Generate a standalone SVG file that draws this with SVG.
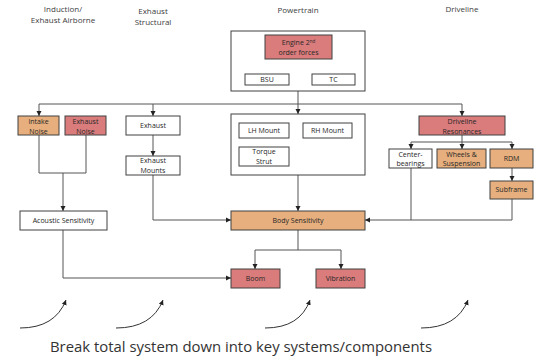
<svg xmlns="http://www.w3.org/2000/svg" width="544" height="359" viewBox="0 0 544 359">
<style>
text{font-family:"Open Sans","Liberation Sans",sans-serif;fill:#262626;}
.n{font-size:7px;text-anchor:middle;}
.h{font-size:8px;text-anchor:middle;fill:#404040;}
.b{stroke:#404040;stroke-width:1;}
.w{fill:#fff;}
.r{fill:#DA7C7C;}
.o{fill:#E6AF7D;}
.c{fill:none;stroke:#555;stroke-width:1;}
.a{fill:none;stroke:#333;stroke-width:1;}
</style>
<defs>
<marker id="ar" markerWidth="6" markerHeight="6" refX="5" refY="3" orient="auto" markerUnits="userSpaceOnUse">
<path d="M0,0.5 L5,3 L0,5.5 Z" fill="#222"/>
</marker>
</defs>
<rect width="544" height="359" fill="#fff"/>

<g id="headers">
<text class="h" x="63" y="12">Induction/</text>
<text class="h" x="63" y="23">Exhaust Airborne</text>
<text class="h" x="153" y="14">Exhaust</text>
<text class="h" x="153" y="25">Structural</text>
<text class="h" x="298" y="13">Powertrain</text>
<text class="h" x="462" y="12">Driveline</text>
</g>

<g id="connectors">
<path class="c" d="M298,59 V66 M266,66 H333" />
<path class="c" d="M266,66 V74" marker-end="url(#ar)"/>
<path class="c" d="M333,66 V74" marker-end="url(#ar)"/>
<path class="c" d="M298,91 V114" marker-end="url(#ar)"/>
<path class="c" d="M39,104 H462"/>
<path class="c" d="M39,104 V116" marker-end="url(#ar)"/>
<path class="c" d="M153,104 V116" marker-end="url(#ar)"/>
<path class="c" d="M462,104 V116" marker-end="url(#ar)"/>
<path class="c" d="M153,135 V156" marker-end="url(#ar)"/>
<path class="c" d="M39,135 V173 H86 V135 M63,173 V211" marker-end="url(#ar)"/>
<path class="c" d="M462,135 V149" marker-end="url(#ar)"/>
<path class="c" d="M411,142 H512"/>
<path class="c" d="M411,142 V149" marker-end="url(#ar)"/>
<path class="c" d="M512,142 V149" marker-end="url(#ar)"/>
<path class="c" d="M512,168 V181" marker-end="url(#ar)"/>
<path class="c" d="M153,175 V220 H231" marker-end="url(#ar)"/>
<path class="c" d="M298,175 V211" marker-end="url(#ar)"/>
<path class="c" d="M512,199 V220 H411"/>
<path class="c" d="M411,168 V220 H365" marker-end="url(#ar)"/>
<path class="c" d="M63,230 V278 H231" marker-end="url(#ar)"/>
<path class="c" d="M298,230 V250 H255 V269" marker-end="url(#ar)"/>
<path class="c" d="M298,250 H341 V269" marker-end="url(#ar)"/>
<path class="a" d="M20,328 Q55,328 66,300" marker-end="url(#ar)"/>
<path class="a" d="M116,328 Q152,328 163,300" marker-end="url(#ar)"/>
<path class="a" d="M265,328 Q300,328 310,300" marker-end="url(#ar)"/>
<path class="a" d="M421,328 Q457,328 468,300" marker-end="url(#ar)"/>
</g>

<g id="powertrain-top"><rect class="b w" x="231" y="31" width="134" height="60"/></g>
<g id="engine"><rect class="b r" x="265" y="35" width="67" height="24"/>
<text class="n" x="298.5" y="45">Engine 2<tspan font-size="4.5" dy="-2.5">nd</tspan></text>
<text class="n" x="298.5" y="55">order forces</text></g>
<g id="bsu"><rect class="b w" x="245" y="74" width="44" height="11"/><text class="n" x="267" y="82">BSU</text></g>
<g id="tc"><rect class="b w" x="312" y="74" width="43" height="11"/><text class="n" x="333.5" y="82">TC</text></g>

<g id="intake-noise"><rect class="b o" x="18" y="116" width="41" height="19"/>
<text class="n" x="38.5" y="124">Intake</text><text class="n" x="38.5" y="134">Noise</text></g>
<g id="exhaust-noise"><rect class="b r" x="65" y="116" width="41" height="19"/>
<text class="n" x="85.5" y="124">Exhaust</text><text class="n" x="85.5" y="134">Noise</text></g>
<g id="exhaust"><rect class="b w" x="126" y="116" width="54" height="19"/><text class="n" x="153" y="128">Exhaust</text></g>
<g id="exhaust-mounts"><rect class="b w" x="126" y="156" width="54" height="19"/>
<text class="n" x="153" y="163">Exhaust</text><text class="n" x="153" y="173">Mounts</text></g>

<g id="powertrain-mounts"><rect class="b w" x="231" y="114" width="134" height="61"/></g>
<g id="lh-mount"><rect class="b w" x="239" y="123" width="50" height="15"/><text class="n" x="264" y="133">LH Mount</text></g>
<g id="rh-mount"><rect class="b w" x="303" y="123" width="49" height="15"/><text class="n" x="327.5" y="133">RH Mount</text></g>
<g id="torque-strut"><rect class="b w" x="239" y="147" width="50" height="19"/>
<text class="n" x="264" y="154">Torque</text><text class="n" x="264" y="164">Strut</text></g>

<g id="driveline-resonances"><rect class="b r" x="419" y="116" width="86" height="19"/>
<text class="n" x="462" y="124">Driveline</text><text class="n" x="462" y="134">Resonances</text></g>
<g id="center-bearings"><rect class="b w" x="389" y="149" width="43" height="19"/>
<text class="n" x="410.5" y="157">Center-</text><text class="n" x="410.5" y="166">bearings</text></g>
<g id="wheels"><rect class="b o" x="437" y="149" width="49" height="19"/>
<text class="n" x="461.5" y="157">Wheels &amp;</text><text class="n" x="461.5" y="166">Suspension</text></g>
<g id="rdm"><rect class="b o" x="490" y="149" width="43" height="19"/><text class="n" x="511.5" y="161">RDM</text></g>
<g id="subframe"><rect class="b o" x="490" y="181" width="43" height="18"/><text class="n" x="511.5" y="192">Subframe</text></g>

<g id="acoustic-sensitivity"><rect class="b w" x="20" y="211" width="87" height="19"/><text class="n" x="63.5" y="223">Acoustic Sensitivity</text></g>
<g id="body-sensitivity"><rect class="b o" x="231" y="211" width="134" height="19"/><text class="n" x="298" y="223">Body Sensitivity</text></g>
<g id="boom"><rect class="b r" x="231" y="269" width="49" height="19"/><text class="n" x="255.5" y="281">Boom</text></g>
<g id="vibration"><rect class="b r" x="316" y="269" width="49" height="19"/><text class="n" x="340.5" y="281">Vibration</text></g>

<text x="50" y="352" font-size="15" textLength="382" lengthAdjust="spacingAndGlyphs" style="fill:#333">Break total system down into key systems/components</text>
</svg>
